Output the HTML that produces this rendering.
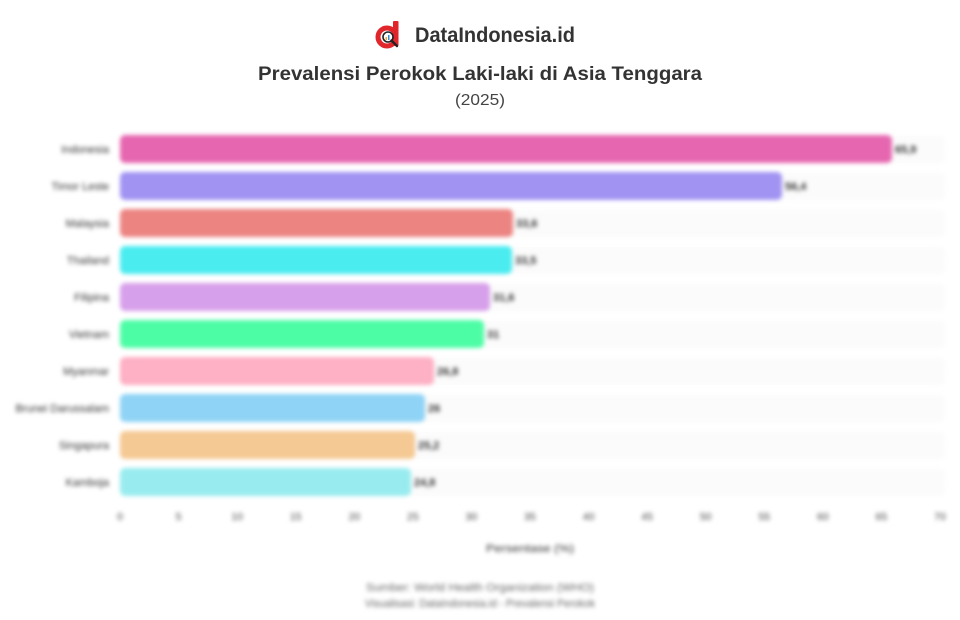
<!DOCTYPE html>
<html><head><meta charset="utf-8"><style>
html,body{margin:0;padding:0;background:#fff;}
body{width:960px;height:620px;overflow:hidden;position:relative;font-family:"Liberation Sans",sans-serif;}
svg{position:absolute;left:0;top:0;}
.blur{filter:blur(2.2px);}
</style></head><body>
<svg width="960" height="620" viewBox="0 0 960 620" xmlns="http://www.w3.org/2000/svg">
  <!-- logo -->
  <g>
    <circle cx="387" cy="37" r="9" fill="none" stroke="#e0262b" stroke-width="5"/>
    <rect x="393" y="21" width="5.5" height="25" rx="1" fill="#e0262b"/>
    <circle cx="388" cy="37" r="5" fill="#fff" stroke="#222" stroke-width="1.6"/>
    <rect x="385.5" y="37" width="1.5" height="3" fill="#f5a623"/>
    <rect x="388" y="35" width="1.5" height="5" fill="#2a8de0"/>
    <line x1="391.5" y1="40.5" x2="397" y2="46" stroke="#222" stroke-width="2.4" stroke-linecap="round"/>
  </g>
  <text x="415" y="42" font-family="Liberation Sans, sans-serif" font-size="21" font-weight="bold" fill="#333" textLength="160" lengthAdjust="spacingAndGlyphs">DataIndonesia.id</text>
  <text x="480" y="80" text-anchor="middle" font-family="Liberation Sans, sans-serif" font-size="19" font-weight="bold" fill="#333" textLength="444" lengthAdjust="spacingAndGlyphs">Prevalensi Perokok Laki-laki di Asia Tenggara</text>
  <text x="480" y="105" text-anchor="middle" font-family="Liberation Sans, sans-serif" font-size="16" fill="#444" textLength="50" lengthAdjust="spacingAndGlyphs">(2025)</text>

  <g class="blur">
    <!-- tracks -->
    <g fill="#fbfbfb">
      <rect x="120" y="136" width="825" height="27" rx="5"/>
      <rect x="120" y="173" width="825" height="27" rx="5"/>
      <rect x="120" y="210" width="825" height="27" rx="5"/>
      <rect x="120" y="247" width="825" height="27" rx="5"/>
      <rect x="120" y="284" width="825" height="27" rx="5"/>
      <rect x="120" y="321" width="825" height="27" rx="5"/>
      <rect x="120" y="358" width="825" height="27" rx="5"/>
      <rect x="120" y="395" width="825" height="27" rx="5"/>
      <rect x="120" y="432" width="825" height="27" rx="5"/>
      <rect x="120" y="469" width="825" height="27" rx="5"/>
    </g>
    <!-- bars -->
    <rect x="120" y="135" width="772" height="28" rx="5" fill="#e667b0"/>
    <rect x="120" y="172" width="662" height="28" rx="5" fill="#a093f2"/>
    <rect x="120" y="209" width="393" height="28" rx="5" fill="#ec8482"/>
    <rect x="120" y="246" width="392" height="28" rx="5" fill="#4aecf0"/>
    <rect x="120" y="283" width="370" height="28" rx="5" fill="#d7a0ea"/>
    <rect x="120" y="320" width="364" height="28" rx="5" fill="#4dfda6"/>
    <rect x="120" y="357" width="314" height="28" rx="5" fill="#feb0c4"/>
    <rect x="120" y="394" width="305" height="28" rx="5" fill="#8fd3f6"/>
    <rect x="120" y="431" width="295" height="28" rx="5" fill="#f5c993"/>
    <rect x="120" y="468" width="291" height="28" rx="5" fill="#98ecef"/>

    <!-- category labels -->
    <g font-family="Liberation Sans, sans-serif" font-size="11" fill="#333" text-anchor="end">
      <text x="109" y="153">Indonesia</text>
      <text x="109" y="190">Timor Leste</text>
      <text x="109" y="227">Malaysia</text>
      <text x="109" y="264">Thailand</text>
      <text x="109" y="301">Filipina</text>
      <text x="109" y="338">Vietnam</text>
      <text x="109" y="375">Myanmar</text>
      <text x="109" y="412">Brunei Darussalam</text>
      <text x="109" y="449">Singapura</text>
      <text x="109" y="486">Kamboja</text>
    </g>
    <!-- value labels -->
    <g font-family="Liberation Sans, sans-serif" font-size="11" font-weight="bold" fill="#333">
      <text x="895" y="153">65,9</text>
      <text x="785" y="190">56,4</text>
      <text x="516" y="227">33,6</text>
      <text x="515" y="264">33,5</text>
      <text x="493" y="301">31,6</text>
      <text x="487" y="338">31</text>
      <text x="437" y="375">26,8</text>
      <text x="428" y="412">26</text>
      <text x="418" y="449">25,2</text>
      <text x="414" y="486">24,8</text>
    </g>
    <!-- ticks -->
    <g font-family="Liberation Sans, sans-serif" font-size="10.5" fill="#444" text-anchor="middle">
      <text x="120" y="520">0</text>
      <text x="178.6" y="520">5</text>
      <text x="237.1" y="520">10</text>
      <text x="295.7" y="520">15</text>
      <text x="354.3" y="520">20</text>
      <text x="412.9" y="520">25</text>
      <text x="471.4" y="520">30</text>
      <text x="530" y="520">35</text>
      <text x="588.6" y="520">40</text>
      <text x="647.1" y="520">45</text>
      <text x="705.7" y="520">50</text>
      <text x="764.3" y="520">55</text>
      <text x="822.9" y="520">60</text>
      <text x="881.4" y="520">65</text>
      <text x="940" y="520">70</text>
    </g>
    <text x="530" y="552" text-anchor="middle" font-family="Liberation Sans, sans-serif" font-size="11" fill="#333" textLength="88" lengthAdjust="spacingAndGlyphs">Persentase (%)</text>
    <text x="480" y="591" text-anchor="middle" font-family="Liberation Sans, sans-serif" font-size="11" fill="#666" textLength="228" lengthAdjust="spacingAndGlyphs">Sumber: World Health Organization (WHO)</text>
    <text x="480" y="607" text-anchor="middle" font-family="Liberation Sans, sans-serif" font-size="11" fill="#666" textLength="230" lengthAdjust="spacingAndGlyphs">Visualisasi: DataIndonesia.id - Prevalensi Perokok</text>
  </g>
</svg>
</body></html>
